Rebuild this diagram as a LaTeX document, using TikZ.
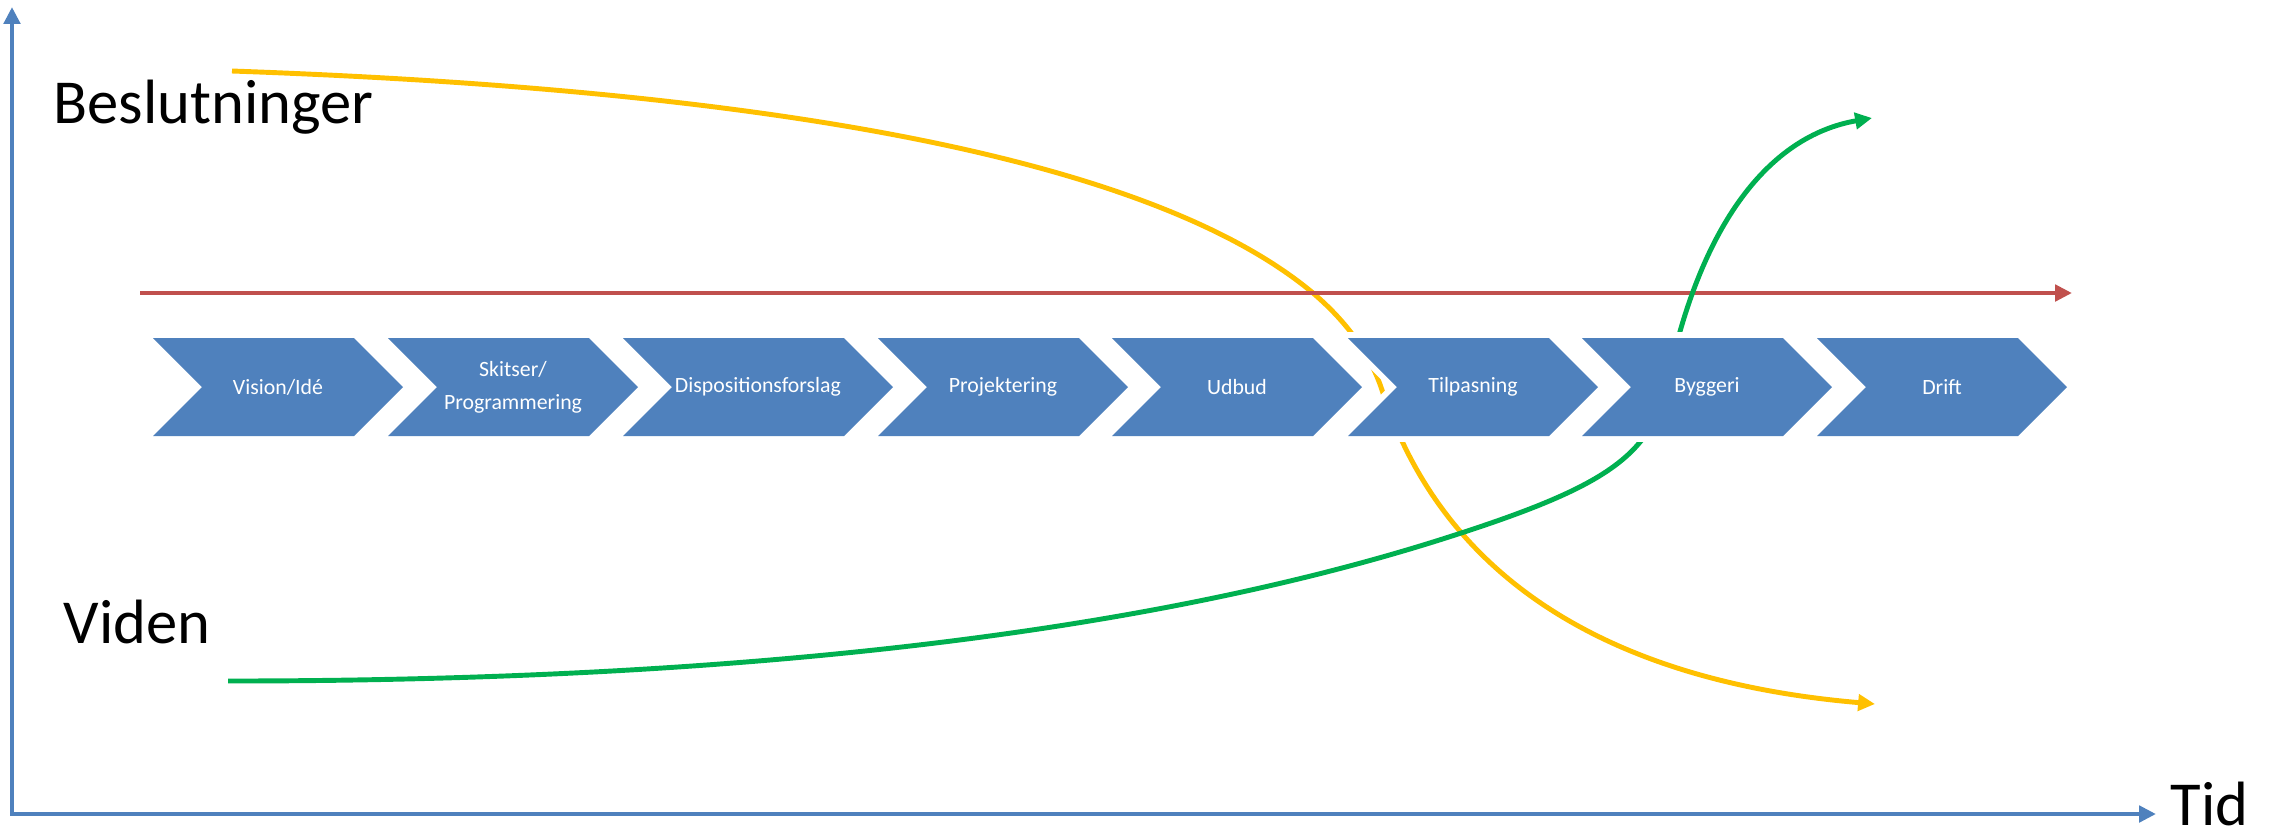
\documentclass[tikz,border=0pt]{standalone}
\usepackage{fontspec}
\setmainfont{Carlito}
\usepackage{tikz}
\usetikzlibrary{arrows.meta}
\usetikzlibrary{calc}

\definecolor{axisblue}{HTML}{4F81BD}
\definecolor{phaseblue}{HTML}{4F81BD}
\definecolor{phasered}{HTML}{C0504D}
\definecolor{beslyellow}{HTML}{FFC000}
\definecolor{videngreen}{HTML}{00B050}

\tikzset{
    >={Triangle[length=4.8pt, width=4.6pt]},
    axisline/.style={draw=axisblue, line width=1.4pt},
    flow/.style={line width=1.4pt, ->},
    biglabel/.style={font=\fontsize{17.8pt}{21pt}\selectfont, inner sep=0pt},
    phasetext/.style={text=white, align=center, inner sep=0pt},
}

\begin{document}
\begin{tikzpicture}[x=0.01cm, y=-0.01cm, font=\fontsize{6.2pt}{9.4pt}\selectfont]
    \useasboundingbox (0,0) rectangle (2277,838);

    % axes
    \coordinate (origin) at (12,814);
    \coordinate (ytop) at (12,7);
    \coordinate (xend) at (2156,814);
    \draw[axisline, <->] (ytop) -- (origin) -- (xend);

    \node[biglabel, anchor=base west] (besl) at (53,123) {Beslutninger};
    \node[biglabel, anchor=base west] (viden) at (63,643) {Viden};
    \node[biglabel, anchor=base west] (tid) at (2170,825) {Tid};

    % curves
    \coordinate (besl start) at (232,71);
    \coordinate (besl end) at (1875,704);
    \coordinate (viden start) at (228,681);
    \coordinate (viden end) at (1872,118);
    \coordinate (phase start) at (140,293);
    \coordinate (phase end) at (2072,293);

    \draw[flow, draw=beslyellow] (besl start) .. controls (800,91) and (1160,165) .. (1313,293)
        .. controls (1347,322) and (1370,354) .. (1382,390)
        .. controls (1442,576) and (1606,681) .. (besl end);
    \draw[flow, draw=phasered] (phase start) -- (phase end);
    \draw[flow, draw=videngreen] (viden start) .. controls (747,681) and (1156,632) .. (1455,535)
        .. controls (1610,485) and (1652,454) .. (1668,380)
        .. controls (1701,224) and (1769,136) .. (viden end);

    % phases
    \foreach \lx/\w/\nm/\txt in {153/250/vision/{Vision/Idé}, 388/250/skitser/{Skitser/\\Programmering},
            623/270/dispo/Dispositionsforslag, 878/250/proj/Projektering, 1112/250/udbud/Udbud,
            1348/250/tilpas/Tilpasning, 1582/250/byg/Byggeri, 1817/250/drift/Drift} {
        \fill[phaseblue, preaction={draw=white, line width=3.4pt}] (\lx,338) -- ++(\w-49,0) -- ++(49,49)
            -- ++(-49,49) -- ++(-\w+49,0) -- ++(49,-49) -- cycle;
        \node[phasetext] (\nm) at (\lx+\w/2,387) {\txt};
    }
\end{tikzpicture}
\end{document}
